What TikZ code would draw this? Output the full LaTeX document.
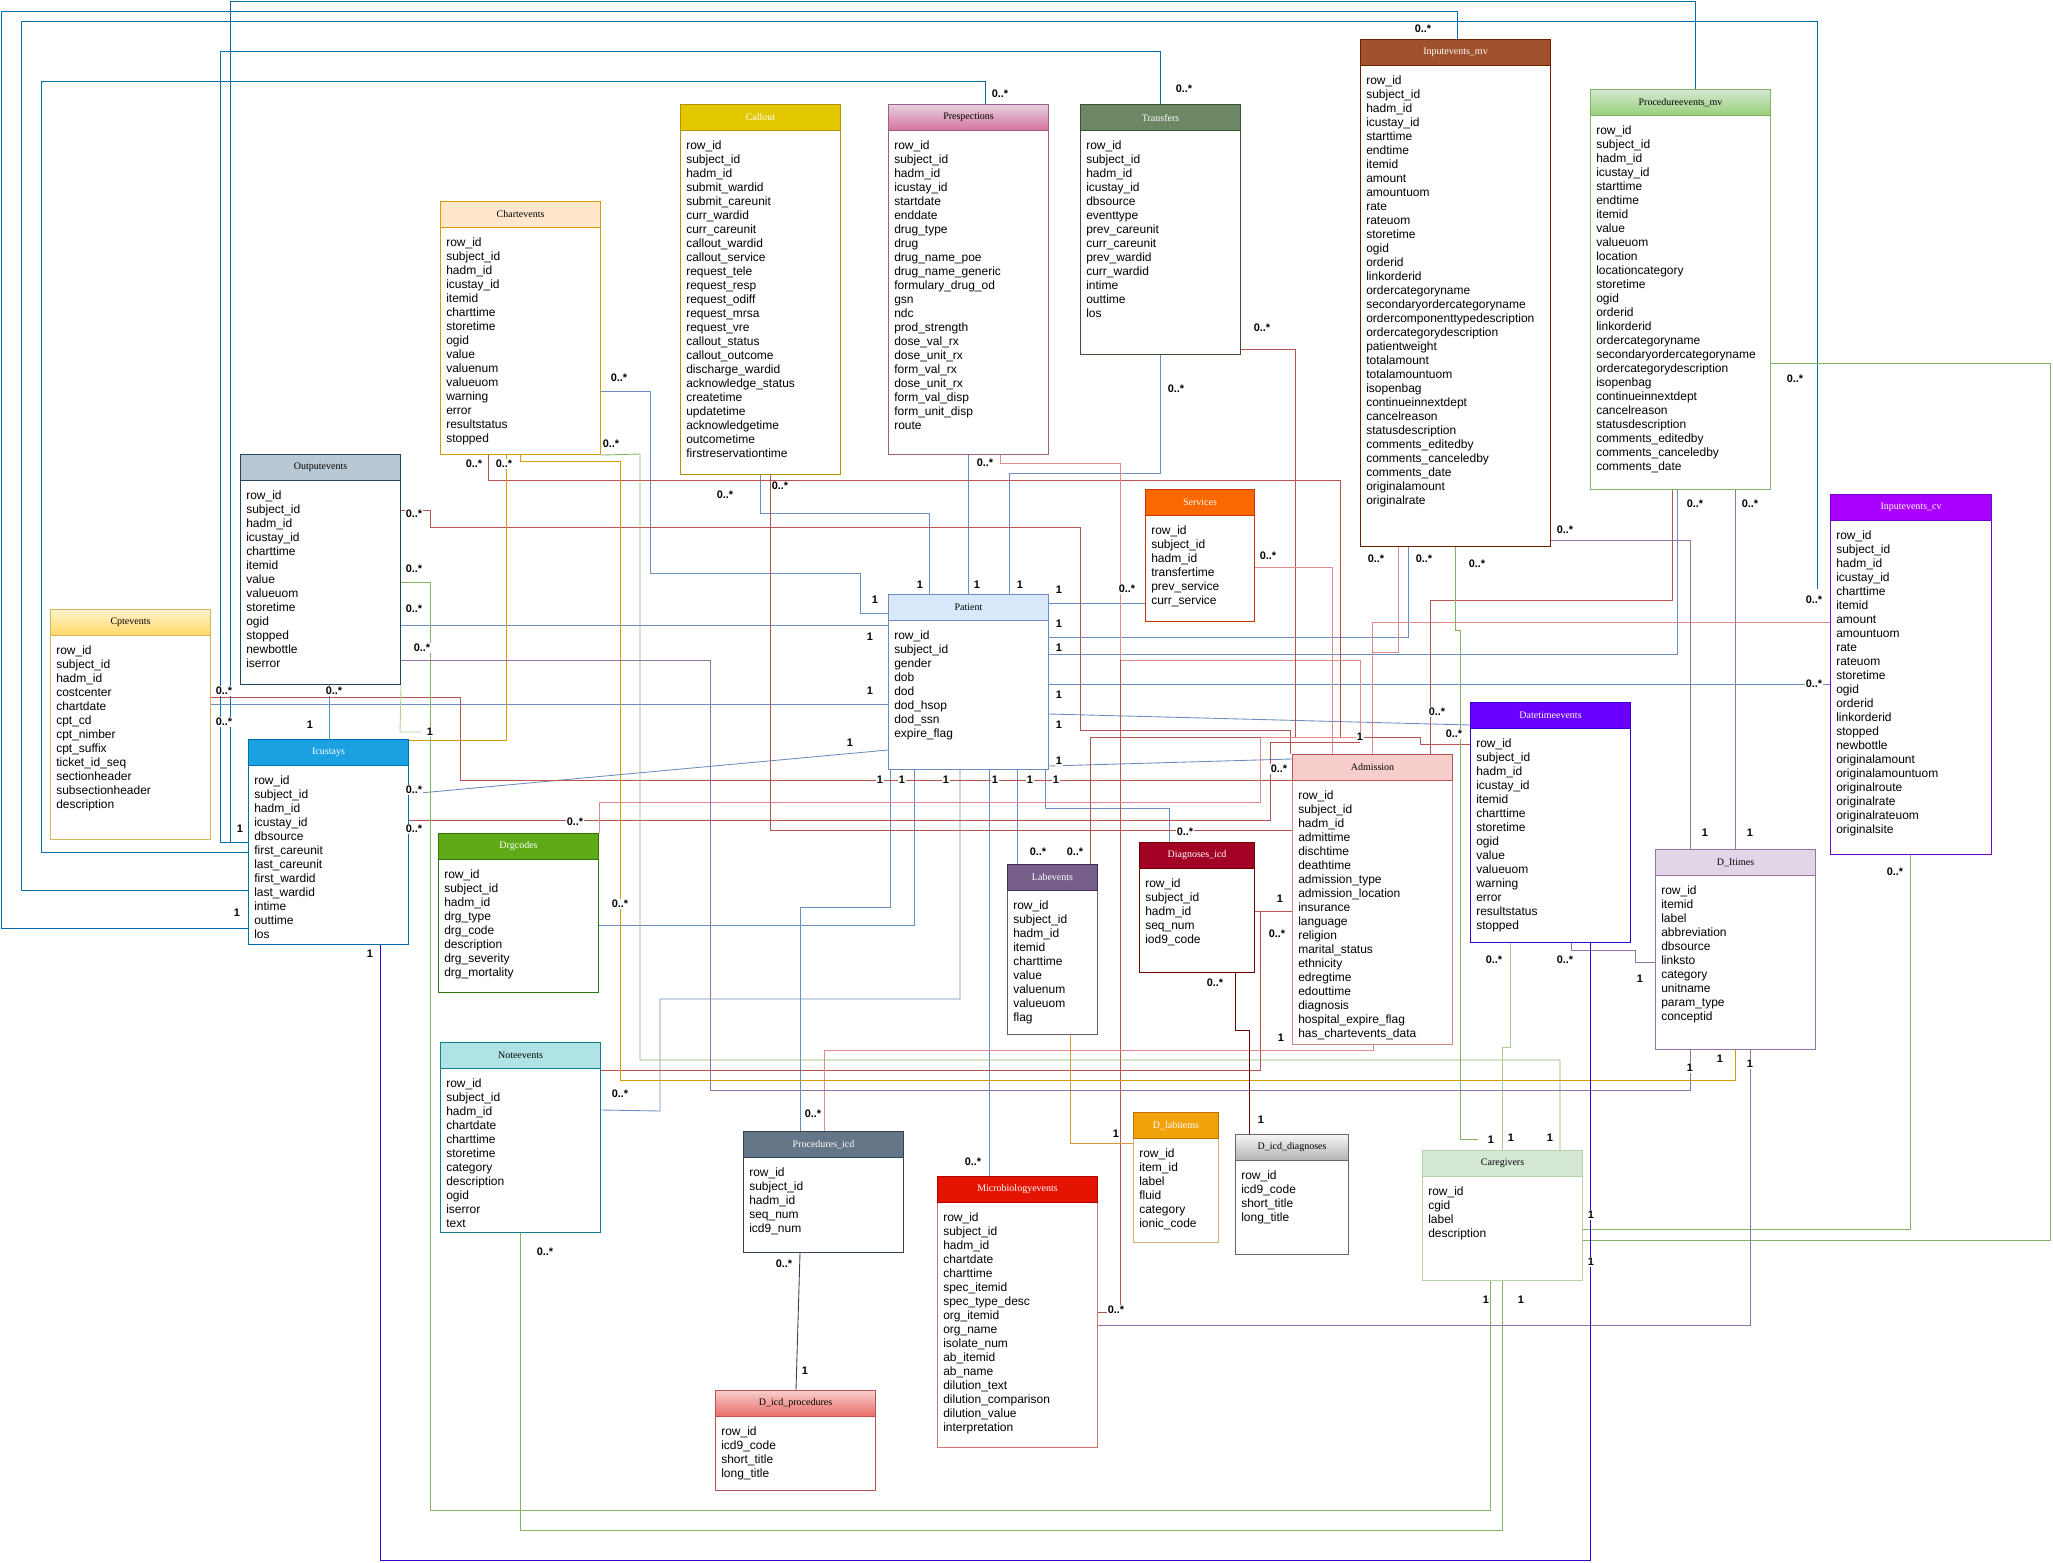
\documentclass[tikz,border=0pt]{standalone}
\usepackage{fontspec}
\setmainfont{Liberation Sans}
\newfontfamily\hdfont{Liberation Serif}
\usetikzlibrary{calc}
% header fills / strokes
\definecolor{hCallout}{HTML}{E3C800}\definecolor{sCallout}{HTML}{B09500}
\definecolor{hPresT}{HTML}{E6D0DE}\definecolor{hPresB}{HTML}{D5739D}\definecolor{sPres}{HTML}{996185}
\definecolor{hTrans}{HTML}{6D8764}\definecolor{sTrans}{HTML}{3A5431}
\definecolor{hInMV}{HTML}{A0522D}\definecolor{sInMV}{HTML}{6D1F00}
\definecolor{hProcT}{HTML}{D5E8D4}\definecolor{hProcB}{HTML}{97D077}\definecolor{sGreen}{HTML}{82B366}
\definecolor{hChart}{HTML}{FFE6CC}\definecolor{sChart}{HTML}{D79B00}
\definecolor{hOut}{HTML}{BAC8D3}\definecolor{sOut}{HTML}{23445D}
\definecolor{hCptT}{HTML}{FFF2CC}\definecolor{hCptB}{HTML}{FFD966}\definecolor{sCpt}{HTML}{D6B656}
\definecolor{hIcu}{HTML}{1BA1E2}\definecolor{sIcu}{HTML}{006EAF}
\definecolor{hPat}{HTML}{DAE8FC}\definecolor{sPat}{HTML}{6C8EBF}
\definecolor{hServ}{HTML}{FA6800}\definecolor{sServ}{HTML}{C73500}
\definecolor{hInCV}{HTML}{AA00FF}\definecolor{sInCV}{HTML}{7700CC}
\definecolor{hDate}{HTML}{6A00FF}\definecolor{sDate}{HTML}{3700CC}
\definecolor{hAdm}{HTML}{F8CECC}\definecolor{sAdm}{HTML}{B85450}
\definecolor{hDrg}{HTML}{60A917}\definecolor{sDrg}{HTML}{2D7600}
\definecolor{hLab}{HTML}{76608A}\definecolor{sLab}{HTML}{432D57}
\definecolor{hDiag}{HTML}{A20025}\definecolor{sDiag}{HTML}{6F0000}
\definecolor{hDit}{HTML}{E1D5E7}\definecolor{sDit}{HTML}{9673A6}
\definecolor{hNote}{HTML}{B0E3E6}\definecolor{sNote}{HTML}{0E8088}
\definecolor{hPIcd}{HTML}{647687}\definecolor{sPIcd}{HTML}{314354}
\definecolor{hMicro}{HTML}{E51400}\definecolor{sMicro}{HTML}{B20000}
\definecolor{hDLab}{HTML}{F0A30A}\definecolor{sDLab}{HTML}{BD7000}
\definecolor{hDDT}{HTML}{F5F5F5}\definecolor{hDDB}{HTML}{B3B3B3}\definecolor{sDD}{HTML}{666666}
\definecolor{hDPT}{HTML}{F8CECC}\definecolor{hDPB}{HTML}{EA6B66}
% connector colours
\definecolor{cPat}{HTML}{6C8EBF}
\definecolor{cIcu}{HTML}{006EAF}
\definecolor{cIcuL}{HTML}{3D9CD8}
\definecolor{cAdm}{HTML}{B85450}
\definecolor{cAdmL}{HTML}{E38A88}
\definecolor{cOr}{HTML}{D79B00}
\definecolor{cOrL}{HTML}{D99A3A}
\definecolor{cGr}{HTML}{82B366}
\definecolor{cGrL}{HTML}{A9CF94}
\definecolor{cPu}{HTML}{9673A6}
\definecolor{cDP}{HTML}{3700CC}
\definecolor{cDR}{HTML}{6F0000}
\definecolor{cSl}{HTML}{314354}
\tikzset{
  tb/.style={draw, rectangle, fill=white, line width=0.8pt, inner sep=0pt, anchor=north west},
  th/.style={draw, rectangle, line width=0.8pt, inner sep=0pt, anchor=north west,
     font=\hdfont\fontsize{7.5pt}{9pt}\selectfont},
  fl/.style={anchor=north west, inner sep=0pt, align=left, font=\fontsize{9pt}{10.5pt}\selectfont},
  lb/.style={font=\bfseries\fontsize{8.2pt}{9pt}\selectfont, fill=white, inner sep=0.6pt},
  cn/.style={line width=0.65pt},
}
% name, x, y, w, h, header options, body stroke, title, fields
\newcommand\ertable[9]{%
  \node[tb, draw=#7, minimum width=#4*0.75pt, minimum height=#5*0.75pt] (#1) at (#2,#3) {};
  \node[th, #6, minimum width=#4*0.75pt, minimum height=26*0.75pt] (#1-h) at (#2,#3) {#8};
  \node[fl] (#1-f) at (#2+6,#3+37) {#9};
}
\begin{document}
\begin{tikzpicture}[x=0.75pt,y=-0.75pt]
\useasboundingbox (0,0) rectangle (2053,1563);
% ---------- table outlines as named nodes (invisible) for connector ends ----------
\begin{scope}[every node/.append style={opacity=0}]
\node[tb, minimum width=120pt, minimum height=370*0.75pt] (Callout) at (680,104) {};
\node[tb, minimum width=120pt, minimum height=350*0.75pt] (Pres) at (888,104) {};
\node[tb, minimum width=120pt, minimum height=250*0.75pt] (Trans) at (1080,104) {};
\node[tb, minimum width=190*0.75pt, minimum height=507*0.75pt] (InMV) at (1360,39) {};
\node[tb, minimum width=180*0.75pt, minimum height=400*0.75pt] (ProcMV) at (1590,89) {};
\node[tb, minimum width=120pt, minimum height=253*0.75pt] (Chart) at (440,201) {};
\node[tb, minimum width=120pt, minimum height=230*0.75pt] (Out) at (240,454) {};
\node[tb, minimum width=120pt, minimum height=230*0.75pt] (Cpt) at (50,609) {};
\node[tb, minimum width=120pt, minimum height=205*0.75pt] (Icu) at (248,739) {};
\node[tb, minimum width=120pt, minimum height=175*0.75pt] (Pat) at (888,594) {};
\node[tb, minimum width=109*0.75pt, minimum height=132*0.75pt] (Serv) at (1145,489) {};
\node[tb, minimum width=161*0.75pt, minimum height=360*0.75pt] (InCV) at (1830,494) {};
\node[tb, minimum width=120pt, minimum height=240*0.75pt] (Date) at (1470,702) {};
\node[tb, minimum width=120pt, minimum height=290*0.75pt] (Adm) at (1292,754) {};
\node[tb, minimum width=120pt, minimum height=159*0.75pt] (Drg) at (438,833) {};
\node[tb, minimum width=90*0.75pt, minimum height=170*0.75pt] (Lab) at (1007,864) {};
\node[tb, minimum width=115*0.75pt, minimum height=130*0.75pt] (Diag) at (1139,842) {};
\node[tb, minimum width=120pt, minimum height=200*0.75pt] (Dit) at (1655,849) {};
\node[tb, minimum width=120pt, minimum height=190*0.75pt] (Note) at (440,1042) {};
\node[tb, minimum width=120pt, minimum height=121*0.75pt] (PIcd) at (743,1131) {};
\node[tb, minimum width=120pt, minimum height=100*0.75pt] (DProc) at (715,1390) {};
\node[tb, minimum width=120pt, minimum height=271*0.75pt] (Micro) at (937,1176) {};
\node[tb, minimum width=85*0.75pt, minimum height=130*0.75pt] (DLab) at (1133,1112) {};
\node[tb, minimum width=113*0.75pt, minimum height=120*0.75pt] (DDiag) at (1235,1134) {};
\node[tb, minimum width=120pt, minimum height=130*0.75pt] (Care) at (1422,1150) {};
\end{scope}
\coordinate (AdmHub) at (1360,737);
\coordinate (CvEnd) at (1817,589);
\coordinate (CareHub) at (1478,1139);
% ---------- connectors ----------
\begin{scope}[cn]
% Icustays (deep blue)
\draw[cIcu] (Icu.west |- 0,842) -- (230,842) -- (230,1) -- (1695,1) -- (ProcMV.north -| 1695,0);
\draw[cIcu] (Icu.west |- 0,842) -- (220,842) -- (220,51) -- (1160,51) -- (Trans.north -| 1160,0);
\draw[cIcu] (Icu.west |- 0,852) -- (41,852) -- (41,81) -- (985,81) -- (Pres.north -| 985,0);
\draw[cIcu] (Icu.west |- 0,890) -- (21,890) -- (21,21) -- (1817,21) -- (CvEnd);
\draw[cIcu] (Icu.west |- 0,928) -- (1,928) -- (1,11) -- (1457,11) -- (InMV.north -| 1457,0);
\draw[cIcuL] (Out.south -| 329,0) -- (Icu.north -| 329,0);
% Patient (blue grey)
\draw[cPat] (Chart.east |- 0,391) -- (650,391) -- (650,573) -- (860,573) -- (860,613) -- (Pat.west |- 0,613);
\draw[cPat] (Out.east |- 0,625) -- (Pat.west |- 0,625);
\draw[cPat] (Cpt.east |- 0,704) -- (Pat.west |- 0,704);
\draw[cPat] (Icu.east |- 0,794) -- (Pat.west |- 0,750);
\draw[cPat] (Callout.south -| 760,0) -- (760,513) -- (929,513) -- (Pat.north -| 929,0);
\draw[cPat] (Pres.south -| 968,0) -- (Pat.north -| 968,0);
\draw[cPat] (Trans.south -| 1160,0) -- (1160,473) -- (1009,473) -- (Pat.north -| 1009,0);
\draw[cPat] (Pat.east |- 0,603) -- (Serv.west |- 0,603);
\draw[cPat] (Pat.east |- 0,637) -- (1408,637) -- (InMV.south -| 1408,0);
\draw[cPat] (Pat.east |- 0,654) -- (1677,654) -- (ProcMV.south -| 1677,0);
\draw[cPat] (Pat.east |- 0,684) -- (InCV.west |- 0,684);
\draw[cPat] (Pat.east |- 0,714) -- (Date.west |- 0,725);
\draw[cPat] (Pat.east |- 0,766) -- (Adm.west |- 0,759);
\draw[cPat] (Pat.south -| 890,0) -- (890,907) -- (800,907) -- (PIcd.north -| 800,0);
\draw[cPat] (Pat.south -| 914,0) -- (914,925) -- (Drg.east |- 0,925);
\draw[cPat] (Pat.south -| 960,0) -- (960,999) -- (660,999) -- (660,1111) -- (Note.east |- 0,1110);
\draw[cPat] (Pat.south -| 989,0) -- (Micro.north -| 989,0);
\draw[cPat] (Pat.south -| 1017,0) -- (Lab.north -| 1017,0);
\draw[cPat] (Pat.south -| 1045,0) -- (1045,808) -- (1169,808) -- (Diag.north -| 1169,0);
% Admission (red)
\draw[cAdm] (Chart.south -| 488,0) -- (488,480) -- (1340,480) -- (1340,737) -- (AdmHub);
\draw[cAdm] (Cpt.east |- 0,697) -- (460,697) -- (460,780) -- (Adm.west |- 0,780);
\draw[cAdm] (Icu.east |- 0,820) -- (1270,820) -- (1270,742) -- (AdmHub |- 0,742);
\draw[cAdm] (Out.east |- 0,510) -- (430,510) -- (430,527) -- (1080,527) -- (1080,730) -- (1290,730) -- (Adm.north -| 1290,0);
\draw[cAdm] (Callout.south -| 770,0) -- (770,830) -- (Adm.west |- 0,830);
\draw[cAdmL] (Pres.south -| 1000,0) -- (1000,463) -- (1120,463) -- (1120,660) -- (1360,660) -- (AdmHub);
\draw[cAdm] (Micro.east |- 0,1312) -- (1120,1312) -- (1120,660);
\draw[cAdm] (Trans.east |- 0,349) -- (1295,349) -- (1295,737) -- (AdmHub);
\draw[cAdmL] (Serv.east |- 0,567) -- (1332,567) -- (Adm.north -| 1332,0);
\draw[cAdmL] (InMV.south -| 1398,0) -- (1398,652) -- (1372,652) -- (Adm.north -| 1372,0);
\draw[cAdmL] (InCV.west |- 0,622) -- (1372,622) -- (Adm.north -| 1372,0);
\draw[cAdm] (ProcMV.south -| 1672,0) -- (1672,600) -- (1430,600) -- (Adm.north -| 1430,0);
\draw[cAdm] (Date.west |- 0,744) -- (1420,744) -- (1420,737) -- (AdmHub);
\draw[cAdm] (Lab.north -| 1053,0) -- (1090,864) -- (1090,737) -- (AdmHub);
\draw[cAdmL] (Drg.north east) -- (Drg.north east |- 0,802) -- (1260,802) -- (1260,737) -- (AdmHub);
\draw[cAdm] (Diag.east |- 0,911) -- (Adm.west |- 0,911);
\draw[cAdm] (Note.east |- 0,1070) -- (1260,1070) -- (1260,911);
\draw[cAdmL] (PIcd.north -| 824,0) -- (824,1050) -- (1373,1050) -- (Adm.south -| 1373,0);
% orange
\draw[cOr] (Chart.south -| 506,0) -- (506,740) -- (Icu.east |- 0,740);
\draw[cOr] (Chart.south -| 520,0) -- (520,461) -- (620,461) -- (620,1080) -- (1735,1080) -- (Dit.south -| 1735,0);
\draw[cOrL] (Lab.south -| 1070,0) -- (1070,1143) -- (DLab.west |- 0,1143);
% green (caregivers)
\draw[cGr] (Chart.south east) -- (640,454) -- (640,1060) -- (1560,1060) -- (Care.north -| 1560,0);
\draw[cGr] (Out.east |- 0,582) -- (430,582) -- (430,1510) -- (1490,1510) -- (Care.south -| 1490,0);
\draw[cGrL] (Out.south east) -- (400,732) -- (421,732);
\draw[cGr] (Note.south -| 520,0) -- (520,1530) -- (1502,1530) -- (Care.south -| 1502,0);
\draw[cGr] (InMV.south -| 1455,0) -- (1455,630) -- (1460,630) -- (1460,1139) -- (CareHub);
\draw[cGrL] (Date.south -| 1510,0) -- (1510,1047) -- (1502,1047) -- (Care.north -| 1502,0);
\draw[cGr] (InCV.south -| 1910,0) -- (1910,1229) -- (Care.east |- 0,1229);
\draw[cGr] (ProcMV.east |- 0,363) -- (2050,363) -- (2050,1240) -- (Care.east |- 0,1240);
% purple (D_Itimes)
\draw[cPu] (Out.east |- 0,660) -- (710,660) -- (710,1090) -- (1690,1090) -- (Dit.south -| 1690,0);
\draw[cPu] (InMV.east |- 0,540) -- (1690,540) -- (Dit.north -| 1690,0);
\draw[cPu] (ProcMV.south -| 1735,0) -- (Dit.north -| 1735,0);
\draw[cPu] (Date.south -| 1571,0) -- (1571,950) -- (1635,950) -- (1635,962) -- (Dit.west |- 0,962);
\draw[cPu] (Micro.east |- 0,1325) -- (1750,1325) -- (Dit.south -| 1750,0);
% others
\draw[cDP] (Icu.south -| 380,0) -- (380,1560) -- (1590,1560) -- (Date.south -| 1590,0);
\draw[cDR] (Diag.south -| 1235,0) -- (1235,1030) -- (1249,1030) -- (DDiag.north -| 1249,0);
\draw[cSl] (PIcd.south -| 800,0) -- (DProc.north -| 796,0);
\end{scope}
% ---------- tables ----------
\ertable{CalloutT}{680}{104}{160}{370}{fill=hCallout,draw=sCallout,text=white}{sCallout}{Callout}{row\_id\\subject\_id\\hadm\_id\\submit\_wardid\\submit\_careunit\\curr\_wardid\\curr\_careunit\\callout\_wardid\\callout\_service\\request\_tele\\request\_resp\\request\_odiff\\request\_mrsa\\request\_vre\\callout\_status\\callout\_outcome\\discharge\_wardid\\acknowledge\_status\\createtime\\updatetime\\acknowledgetime\\outcometime\\firstreservationtime}
\ertable{PresT}{888}{104}{160}{350}{top color=hPresT,bottom color=hPresB,draw=sPres}{sPres}{Prespections}{row\_id\\subject\_id\\hadm\_id\\icustay\_id\\startdate\\enddate\\drug\_type\\drug\\drug\_name\_poe\\drug\_name\_generic\\formulary\_drug\_od\\gsn\\ndc\\prod\_strength\\dose\_val\_rx\\dose\_unit\_rx\\form\_val\_rx\\dose\_unit\_rx\\form\_val\_disp\\form\_unit\_disp\\route}
\ertable{TransT}{1080}{104}{160}{250}{fill=hTrans,draw=sTrans,text=white}{sTrans}{Transfers}{row\_id\\subject\_id\\hadm\_id\\icustay\_id\\dbsource\\eventtype\\prev\_careunit\\curr\_careunit\\prev\_wardid\\curr\_wardid\\intime\\outtime\\los}
\ertable{InMVT}{1360}{39}{190}{507}{fill=hInMV,draw=sInMV,text=white}{sInMV}{Inputevents\_mv}{row\_id\\subject\_id\\hadm\_id\\icustay\_id\\starttime\\endtime\\itemid\\amount\\amountuom\\rate\\rateuom\\storetime\\ogid\\orderid\\linkorderid\\ordercategoryname\\secondaryordercategoryname\\ordercomponenttypedescription\\ordercategorydescription\\patientweight\\totalamount\\totalamountuom\\isopenbag\\continueinnextdept\\cancelreason\\statusdescription\\comments\_editedby\\comments\_canceledby\\comments\_date\\originalamount\\originalrate}
\ertable{ProcMVT}{1590}{89}{180}{400}{top color=hProcT,bottom color=hProcB,draw=sGreen}{sGreen}{Procedureevents\_mv}{row\_id\\subject\_id\\hadm\_id\\icustay\_id\\starttime\\endtime\\itemid\\value\\valueuom\\location\\locationcategory\\storetime\\ogid\\orderid\\linkorderid\\ordercategoryname\\secondaryordercategoryname\\ordercategorydescription\\isopenbag\\continueinnextdept\\cancelreason\\statusdescription\\comments\_editedby\\comments\_canceledby\\comments\_date}
\ertable{ChartT}{440}{201}{160}{253}{fill=hChart,draw=sChart}{sChart}{Chartevents}{row\_id\\subject\_id\\hadm\_id\\icustay\_id\\itemid\\charttime\\storetime\\ogid\\value\\valuenum\\valueuom\\warning\\error\\resultstatus\\stopped}
\ertable{OutT}{240}{454}{160}{230}{fill=hOut,draw=sOut}{sOut}{Outputevents}{row\_id\\subject\_id\\hadm\_id\\icustay\_id\\charttime\\itemid\\value\\valueuom\\storetime\\ogid\\stopped\\newbottle\\iserror}
\ertable{CptT}{50}{609}{160}{230}{top color=hCptT,bottom color=hCptB,draw=sCpt}{sCpt}{Cptevents}{row\_id\\subject\_id\\hadm\_id\\costcenter\\chartdate\\cpt\_cd\\cpt\_nimber\\cpt\_suffix\\ticket\_id\_seq\\sectionheader\\subsectionheader\\description}
\ertable{IcuT}{248}{739}{160}{205}{fill=hIcu,draw=sIcu,text=white}{sIcu}{Icustays}{row\_id\\subject\_id\\hadm\_id\\icustay\_id\\dbsource\\first\_careunit\\last\_careunit\\first\_wardid\\last\_wardid\\intime\\outtime\\los}
\ertable{PatT}{888}{594}{160}{175}{fill=hPat,draw=sPat}{sPat}{Patient}{row\_id\\subject\_id\\gender\\dob\\dod\\dod\_hsop\\dod\_ssn\\expire\_flag}
\ertable{ServT}{1145}{489}{109}{132}{fill=hServ,draw=sServ,text=white}{sServ}{Services}{row\_id\\subject\_id\\hadm\_id\\transfertime\\prev\_service\\curr\_service}
\ertable{InCVT}{1830}{494}{161}{360}{fill=hInCV,draw=sInCV,text=white}{sInCV}{Inputevents\_cv}{row\_id\\subject\_id\\hadm\_id\\icustay\_id\\charttime\\itemid\\amount\\amountuom\\rate\\rateuom\\storetime\\ogid\\orderid\\linkorderid\\stopped\\newbottle\\originalamount\\originalamountuom\\originalroute\\originalrate\\originalrateuom\\originalsite}
\ertable{DateT}{1470}{702}{160}{240}{fill=hDate,draw=sDate,text=white}{sDate}{Datetimeevents}{row\_id\\subject\_id\\hadm\_id\\icustay\_id\\itemid\\charttime\\storetime\\ogid\\value\\valueuom\\warning\\error\\resultstatus\\stopped}
\ertable{AdmT}{1292}{754}{160}{290}{fill=hAdm,draw=sAdm}{sAdm!70}{Admission}{row\_id\\subject\_id\\hadm\_id\\admittime\\dischtime\\deathtime\\admission\_type\\admission\_location\\insurance\\language\\religion\\marital\_status\\ethnicity\\edregtime\\edouttime\\diagnosis\\hospital\_expire\_flag\\has\_chartevents\_data}
\ertable{DrgT}{438}{833}{160}{159}{fill=hDrg,draw=sDrg,text=white}{sDrg}{Drgcodes}{row\_id\\subject\_id\\hadm\_id\\drg\_type\\drg\_code\\description\\drg\_severity\\drg\_mortality}
\ertable{LabT}{1007}{864}{90}{170}{fill=hLab,draw=sLab,text=white}{sLab!80}{Labevents}{row\_id\\subject\_id\\hadm\_id\\itemid\\charttime\\value\\valuenum\\valueuom\\flag}
\ertable{DiagT}{1139}{842}{115}{130}{fill=hDiag,draw=sDiag,text=white}{sDiag}{Diagnoses\_icd}{row\_id\\subject\_id\\hadm\_id\\seq\_num\\iod9\_code}
\ertable{DitT}{1655}{849}{160}{200}{fill=hDit,draw=sDit}{sDit}{D\_Itimes}{row\_id\\itemid\\label\\abbreviation\\dbsource\\linksto\\category\\unitname\\param\_type\\conceptid}
\ertable{NoteT}{440}{1042}{160}{190}{fill=hNote,draw=sNote}{sNote}{Noteevents}{row\_id\\subject\_id\\hadm\_id\\chartdate\\charttime\\storetime\\category\\description\\ogid\\iserror\\text}
\ertable{PIcdT}{743}{1131}{160}{121}{fill=hPIcd,draw=sPIcd,text=white}{sPIcd}{Procedures\_icd}{row\_id\\subject\_id\\hadm\_id\\seq\_num\\icd9\_num}
\ertable{DProcT}{715}{1390}{160}{100}{top color=hDPT,bottom color=hDPB,draw=sAdm}{sAdm}{D\_icd\_procedures}{row\_id\\icd9\_code\\short\_title\\long\_title}
\ertable{MicroT}{937}{1176}{160}{271}{fill=hMicro,draw=sMicro,text=white}{sMicro!55}{Microbiologyevents}{row\_id\\subject\_id\\hadm\_id\\chartdate\\charttime\\spec\_itemid\\spec\_type\_desc\\org\_itemid\\org\_name\\isolate\_num\\ab\_itemid\\ab\_name\\dilution\_text\\dilution\_comparison\\dilution\_value\\interpretation}
\ertable{DLabT}{1133}{1112}{85}{130}{fill=hDLab,draw=sDLab,text=white}{sDLab!55}{D\_labitems}{row\_id\\item\_id\\label\\fluid\\category\\ionic\_code}
\ertable{DDiagT}{1235}{1134}{113}{120}{top color=hDDT,bottom color=hDDB,draw=sDD}{sDD}{D\_icd\_diagnoses}{row\_id\\icd9\_code\\short\_title\\long\_title}
\ertable{CareT}{1422}{1150}{160}{130}{fill=hProcT,draw=sGreen!60}{sGreen!60}{Caregivers}{row\_id\\cgid\\label\\description}
% ---------- multiplicity labels ----------
\node[lb] (m1) at (1423,29) {0..*};
\node[lb] (m2) at (1184,89) {0..*};
\node[lb] (m3) at (1000,94) {0..*};
\node[lb] (m4) at (1262,328) {0..*};
\node[lb] (m5) at (619,378) {0..*};
\node[lb] (m6) at (1176,389) {0..*};
\node[lb] (m7) at (1795,379) {0..*};
\node[lb] (m8) at (611,444) {0..*};
\node[lb] (m9) at (474,464) {0..*};
\node[lb] (m10) at (504,464) {0..*};
\node[lb] (m11) at (985,463) {0..*};
\node[lb] (m12) at (780,486) {0..*};
\node[lb] (m13) at (725,495) {0..*};
\node[lb] (m14) at (414,514) {0..*};
\node[lb] (m15) at (1376,559) {0..*};
\node[lb] (m16) at (1424,559) {0..*};
\node[lb] (m17) at (1477,564) {0..*};
\node[lb] (m18) at (1565,530) {0..*};
\node[lb] (m19) at (1695,504) {0..*};
\node[lb] (m20) at (1750,504) {0..*};
\node[lb] (m21) at (1268,556) {0..*};
\node[lb] (m22) at (414,569) {0..*};
\node[lb] (m23) at (1127,589) {0..*};
\node[lb] (m24) at (1814,600) {0..*};
\node[lb] (m25) at (414,609) {0..*};
\node[lb] (m26) at (422,648) {0..*};
\node[lb] (m27) at (1814,684) {0..*};
\node[lb] (m28) at (224,691) {0..*};
\node[lb] (m29) at (334,691) {0..*};
\node[lb] (m30) at (224,722) {0..*};
\node[lb] (m31) at (1437,712) {0..*};
\node[lb] (m32) at (1454,734) {0..*};
\node[lb] (m33) at (1279,769) {0..*};
\node[lb] (m34) at (414,790) {0..*};
\node[lb] (m35) at (414,829) {0..*};
\node[lb] (m36) at (575,822) {0..*};
\node[lb] (m37) at (1038,852) {0..*};
\node[lb] (m38) at (1075,852) {0..*};
\node[lb] (m39) at (1185,832) {0..*};
\node[lb] (m40) at (1895,872) {0..*};
\node[lb] (m41) at (620,904) {0..*};
\node[lb] (m42) at (1277,934) {0..*};
\node[lb] (m43) at (1494,960) {0..*};
\node[lb] (m44) at (1565,960) {0..*};
\node[lb] (m45) at (1215,983) {0..*};
\node[lb] (m46) at (620,1094) {0..*};
\node[lb] (m47) at (813,1114) {0..*};
\node[lb] (m48) at (973,1162) {0..*};
\node[lb] (m49) at (545,1252) {0..*};
\node[lb] (m50) at (784,1264) {0..*};
\node[lb] (m51) at (1116,1310) {0..*};
% ones
\node[lb] (o1) at (920,585) {1};
\node[lb] (o2) at (977,585) {1};
\node[lb] (o3) at (1020,585) {1};
\node[lb] (o4) at (875,600) {1};
\node[lb] (o5) at (870,637) {1};
\node[lb] (o6) at (870,691) {1};
\node[lb] (o7) at (850,743) {1};
\node[lb] (o8) at (1059,590) {1};
\node[lb] (o9) at (1059,624) {1};
\node[lb] (o10) at (1059,648) {1};
\node[lb] (o11) at (1059,695) {1};
\node[lb] (o12) at (1059,725) {1};
\node[lb] (o13) at (1059,761) {1};
\node[lb] (o14) at (880,780) {1};
\node[lb] (o15) at (902,780) {1};
\node[lb] (o16) at (946,780) {1};
\node[lb] (o17) at (995,780) {1};
\node[lb] (o18) at (1030,780) {1};
\node[lb] (o19) at (1056,780) {1};
\node[lb] (o20) at (1360,737) {1};
\node[lb] (o21) at (310,725) {1};
\node[lb] (o22) at (430,732) {1};
\node[lb] (o23) at (240,829) {1};
\node[lb] (o24) at (237,913) {1};
\node[lb] (o25) at (370,954) {1};
\node[lb] (o26) at (1280,899) {1};
\node[lb] (o27) at (1281,1038) {1};
\node[lb] (o28) at (1705,833) {1};
\node[lb] (o29) at (1750,833) {1};
\node[lb] (o30) at (1640,979) {1};
\node[lb] (o31) at (1690,1068) {1};
\node[lb] (o32) at (1720,1059) {1};
\node[lb] (o33) at (1750,1064) {1};
\node[lb] (o34) at (1116,1134) {1};
\node[lb] (o35) at (1261,1120) {1};
\node[lb] (o36) at (1491,1140) {1};
\node[lb] (o37) at (1511,1138) {1};
\node[lb] (o38) at (1550,1138) {1};
\node[lb] (o39) at (1591,1215) {1};
\node[lb] (o40) at (1591,1262) {1};
\node[lb] (o41) at (1486,1300) {1};
\node[lb] (o42) at (1521,1300) {1};
\node[lb] (o43) at (805,1371) {1};
\end{tikzpicture}
\end{document}
